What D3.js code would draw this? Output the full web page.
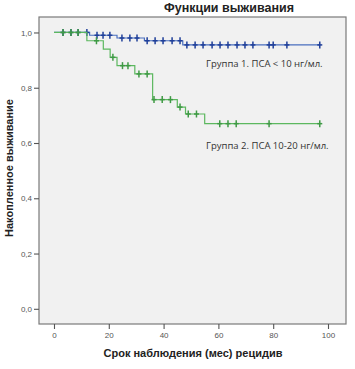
<!DOCTYPE html>
<html>
<head>
<meta charset="utf-8">
<script src="https://cdn.jsdelivr.net/npm/d3@7"></script>
<style>
    body { margin: 0; background: #ffffff; }
    svg { display: block; font-family: "Liberation Sans", Arial, sans-serif; }
</style>
</head>
<body>
<svg id="chart"></svg>
<script>
// chart texts
const chartTitle = 'Функции выживания'
const xTitle = 'Срок наблюдения (мес) рецидив'
const yTitle = 'Накопленное выживание'
const groupLabels = ['Группа 1. ПСА < 10 нг/мл.', 'Группа 2. ПСА 10-20 нг/мл.']

// ticks
const xTicks = [0, 20, 40, 60, 80, 100]
const yTicks = [0, 0.2, 0.4, 0.6, 0.8, 1.0]

// group 1 (blue): step times (months) and survival after each step
const blueTimes = [0, 13, 23, 33, 47, 97]
const blueSurv = [1.0, 0.99, 0.98, 0.97, 0.955, 0.955]
const blueCensored = [3.3, 6.2, 8.8, 12, 15.7, 17.9, 20.4, 24.8, 27.7, 30.3, 34, 36.9, 39.8, 43.1, 46,
    48.5, 51.5, 54.4, 57.7, 60.6, 63.5, 66.8, 69.7, 72.6, 78.5, 80, 85, 97]

// group 2 (green)
const greenTimes = [0, 12, 18, 20.5, 23, 29.5, 36, 45, 48, 55, 97]
const greenSurv = [1.0, 0.97, 0.94, 0.91, 0.88, 0.85, 0.757, 0.73, 0.705, 0.67, 0.67]
const greenCensored = [3.3, 6.2, 8.8, 15.5, 21.5, 25, 27, 31, 34, 36.5, 39.5, 42.5, 46, 49, 52,
    60.5, 63.5, 66.5, 78.5, 97]

const width = 355, height = 369
const margin = {top: 17, right: 9, bottom: 45, left: 39}
const plotW = width - margin.left - margin.right
const plotH = height - margin.top - margin.bottom

const svg = d3.select('#chart')
    .attr('width', width)
    .attr('height', height)

const chart = svg.append('g')
    .attr('transform', `translate(${margin.left},${margin.top})`)

const xScale = d3.scaleLinear().domain([-5.47, 106.57]).range([0, plotW])
const yScale = d3.scaleLinear().domain([-0.055, 1.056]).range([plotH, 0])

// plot background + frame
chart.append('rect')
    .attr('width', plotW)
    .attr('height', plotH)
    .attr('fill', '#f1f1f1')
    .attr('stroke', '#7a7a7a')
    .attr('stroke-width', 1.2)

// axes
const xAxisG = chart.append('g')
    .attr('transform', `translate(0,${plotH})`)
    .call(d3.axisBottom(xScale).tickValues(xTicks).tickSize(5).tickPadding(3))
const yAxisG = chart.append('g')
    .call(d3.axisLeft(yScale).tickValues(yTicks).tickSize(5).tickPadding(2)
        .tickFormat(d => d3.format('.1f')(d).replace('.', ',')))

;[xAxisG, yAxisG].forEach(g => {
    g.select('.domain').remove()
    g.selectAll('.tick line').attr('stroke', '#555').attr('stroke-width', 1.1)
    g.selectAll('.tick text')
        .attr('fill', '#555')
        .style('font-size', '8px')
        .style('font-family', '"Liberation Sans", Arial, sans-serif')
})

// step curves
function stepAt(times, surv, t) {
    let i = d3.bisectRight(times, t) - 1
    return surv[Math.max(0, i)]
}

const line = d3.line()
    .x(d => xScale(d[0]))
    .y(d => yScale(d[1]))
    .curve(d3.curveStepAfter)

const groups = [
    {times: blueTimes, surv: blueSurv, cens: blueCensored, line: '#4a6fbf', mark: '#1f3f99'},
    {times: greenTimes, surv: greenSurv, cens: greenCensored, line: '#5cb85f', mark: '#3f9a45'}
]

groups.forEach(g => {
    chart.append('path')
        .datum(d3.zip(g.times, g.surv))
        .attr('fill', 'none')
        .attr('stroke', g.line)
        .attr('stroke-width', 1.2)
        .attr('d', line)

    chart.selectAll(null)
        .data(g.cens)
        .enter().append('line')
        .attr('x1', d => xScale(d))
        .attr('x2', d => xScale(d))
        .attr('y1', d => yScale(stepAt(g.times, g.surv, d)) - 3.5)
        .attr('y2', d => yScale(stepAt(g.times, g.surv, d)) + 3.5)
        .attr('stroke', g.mark)
        .attr('stroke-width', 1.5)

    chart.selectAll(null)
        .data(g.cens)
        .enter().append('line')
        .attr('x1', d => xScale(d) - 2.5)
        .attr('x2', d => xScale(d) + 2.5)
        .attr('y1', d => yScale(stepAt(g.times, g.surv, d)))
        .attr('y2', d => yScale(stepAt(g.times, g.surv, d)))
        .attr('stroke', g.mark)
        .attr('stroke-width', 1.5)
})

// group labels
chart.append('text')
    .attr('x', xScale(55.5))
    .attr('y', yScale(0.875))
    .attr('fill', '#333')
    .style('font-size', '9.5px')
    .style('font-family', '"Open Sans", sans-serif')
    .text(groupLabels[0])

chart.append('text')
    .attr('x', xScale(55.5))
    .attr('y', yScale(0.58))
    .attr('fill', '#333')
    .style('font-size', '9.5px')
    .style('font-family', '"Open Sans", sans-serif')
    .text(groupLabels[1])

// titles
svg.append('text')
    .attr('x', 229)
    .attr('y', 12)
    .attr('text-anchor', 'middle')
    .attr('font-weight', 700)
    .attr('fill', '#222')
    .style('font-size', '12.5px')
    .text(chartTitle)

svg.append('text')
    .attr('x', 193)
    .attr('y', 357)
    .attr('text-anchor', 'middle')
    .attr('font-weight', 700)
    .attr('fill', '#222')
    .style('font-size', '11px')
    .text(xTitle)

svg.append('text')
    .attr('transform', 'translate(13,168) rotate(-90)')
    .attr('text-anchor', 'middle')
    .attr('font-weight', 700)
    .attr('fill', '#222')
    .style('font-size', '11px')
    .text(yTitle)
</script>
</body>
</html>
